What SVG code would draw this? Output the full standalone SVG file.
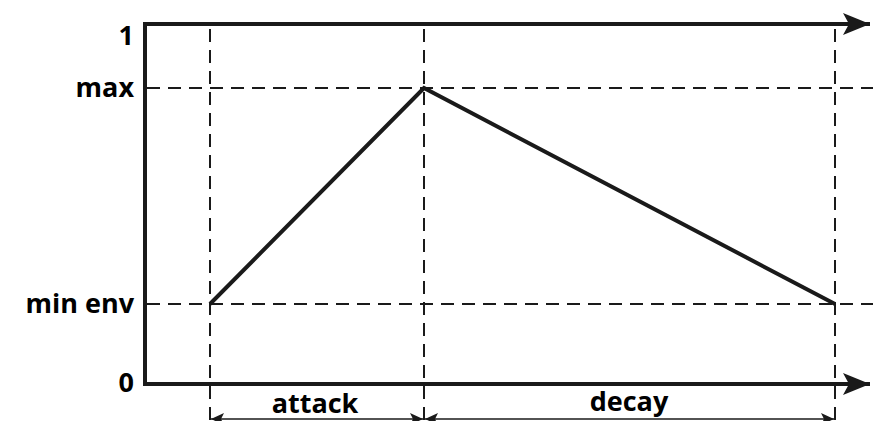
<svg xmlns="http://www.w3.org/2000/svg" width="873" height="421" viewBox="0 0 873 421">
  <style>
    .axis { stroke: #1a1a1a; stroke-width: 4; fill: none; }
    .guide { stroke: #1a1a1a; stroke-width: 2; stroke-dasharray: 13 8; fill: none; }
    .env { stroke: #1a1a1a; stroke-width: 4; fill: none; stroke-linejoin: miter; }
    .dim { stroke: #1a1a1a; stroke-width: 1.6; fill: none; }
    .lbl { font-family: "Open Sans", "Liberation Sans", sans-serif; font-weight: bold; font-size: 27px; fill: #000; }
  </style>
  <defs>
    <marker id="axisHead" markerUnits="userSpaceOnUse" markerWidth="30" markerHeight="24" refX="27" refY="12" orient="auto">
      <path d="M0,1 L27,12 L0,23 L6,12 Z" fill="#1a1a1a"/>
    </marker>
    <marker id="dimHead" markerUnits="userSpaceOnUse" markerWidth="14" markerHeight="12" refX="13" refY="6" orient="auto-start-reverse">
      <path d="M0,0 L13,6 L0,12 L3,6 Z" fill="#1a1a1a"/>
    </marker>
  </defs>

  <!-- connectors: axes, guides, envelope, dimension lines -->
  <g id="connectors">
    <path class="axis" d="M145,386 L145,24 L870,24" marker-end="url(#axisHead)"/>
    <path class="axis" d="M143,384 L870,384" marker-end="url(#axisHead)"/>

    <line class="guide" x1="147" y1="88" x2="873" y2="88"/>
    <line class="guide" x1="147" y1="304" x2="873" y2="304"/>
    <line class="guide" x1="210" y1="29" x2="210" y2="421"/>
    <line class="guide" x1="424" y1="29" x2="424" y2="421"/>
    <line class="guide" x1="835" y1="29" x2="835" y2="421"/>

    <path class="env" d="M210,304 L424,88 L835,304"/>

    <line class="dim" x1="211" y1="419" x2="423" y2="419" marker-start="url(#dimHead)" marker-end="url(#dimHead)"/>
    <line class="dim" x1="425" y1="419" x2="834" y2="419" marker-start="url(#dimHead)" marker-end="url(#dimHead)"/>
  </g>

  <g id="label-1"><text class="lbl" x="134" y="45" text-anchor="end">1</text></g>
  <g id="label-max"><text class="lbl" x="134" y="97" text-anchor="end">max</text></g>
  <g id="label-min-env"><text class="lbl" x="134" y="313" text-anchor="end">min env</text></g>
  <g id="label-0"><text class="lbl" x="134" y="392" text-anchor="end">0</text></g>
  <g id="label-attack"><text class="lbl" x="315" y="413" text-anchor="middle">attack</text></g>
  <g id="label-decay"><text class="lbl" x="629" y="411" text-anchor="middle">decay</text></g>
</svg>
